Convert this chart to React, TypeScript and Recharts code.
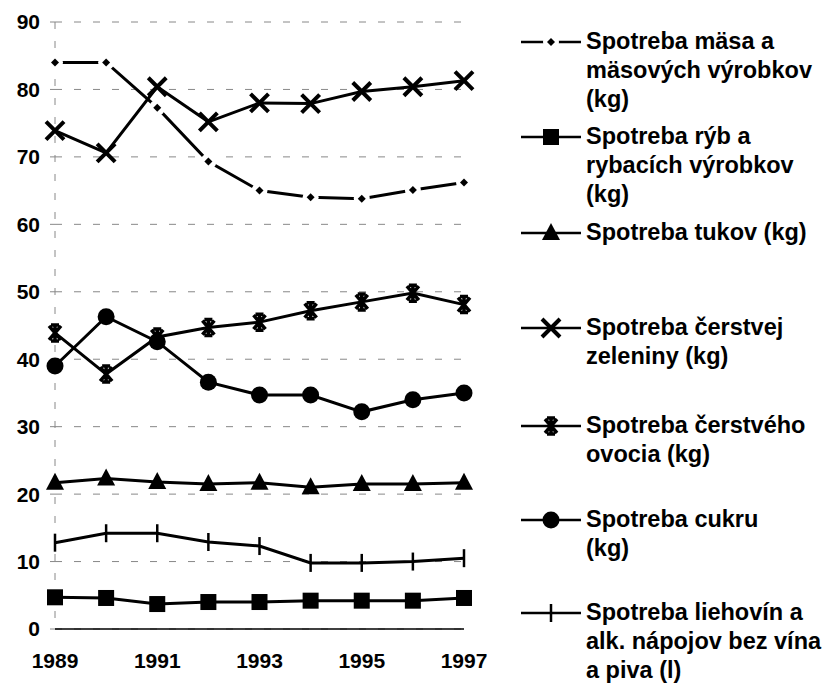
import { LineChart, Line, XAxis, YAxis, CartesianGrid } from 'recharts';

const years = ['1989', '1990', '1991', '1992', '1993', '1994', '1995', '1996', '1997'];
const maso = [84.0, 84.0, 77.3, 69.3, 65.0, 64.0, 63.8, 65.1, 66.2];
const ryby = [4.7, 4.6, 3.7, 4.0, 4.0, 4.2, 4.2, 4.2, 4.6];
const tuky = [21.7, 22.3, 21.8, 21.5, 21.7, 21.0, 21.5, 21.5, 21.7];
const zelenina = [73.9, 70.6, 80.4, 75.2, 78.0, 77.9, 79.7, 80.4, 81.3];
const ovocie = [43.9, 37.8, 43.3, 44.7, 45.5, 47.2, 48.5, 49.8, 48.1];
const cukor = [39.0, 46.3, 42.6, 36.6, 34.7, 34.7, 32.2, 34.0, 35.0];
const liehoviny = [12.8, 14.2, 14.2, 12.9, 12.3, 9.8, 9.8, 10.0, 10.5];

const yTicks = [0, 10, 20, 30, 40, 50, 60, 70, 80, 90];

const legendLines: Record<string, string[]> = {
  maso: ['Spotreba mäsa a', 'mäsových výrobkov', '(kg)'],
  ryby: ['Spotreba rýb a', 'rybacích výrobkov', '(kg)'],
  tuky: ['Spotreba tukov (kg)'],
  zelenina: ['Spotreba čerstvej', 'zeleniny (kg)'],
  ovocie: ['Spotreba čerstvého', 'ovocia (kg)'],
  cukor: ['Spotreba cukru', '(kg)'],
  liehoviny: ['Spotreba liehovín a', 'alk. nápojov bez vína', 'a piva (l)'],
};

const data = years.map((year, i) => ({
  year,
  maso: maso[i],
  ryby: ryby[i],
  tuky: tuky[i],
  zelenina: zelenina[i],
  ovocie: ovocie[i],
  cukor: cukor[i],
  liehoviny: liehoviny[i],
}));

const FONT = '"Liberation Sans", Arial, sans-serif';

function Marker({ kind, cx, cy }: { kind: string; cx: number; cy: number }) {
  switch (kind) {
    case 'maso':
      return (
        <g>
          <circle cx={cx} cy={cy} r={8} fill="#fff" />
          <path d={`M${cx} ${cy - 4}L${cx + 4} ${cy}L${cx} ${cy + 4}L${cx - 4} ${cy}Z`} fill="#000" />
        </g>
      );
    case 'ryby':
      return <rect x={cx - 8} y={cy - 8} width={16} height={16} fill="#000" />;
    case 'tuky':
      return <path d={`M${cx} ${cy - 10}L${cx + 9} ${cy + 7}L${cx - 9} ${cy + 7}Z`} fill="#000" />;
    case 'zelenina':
      return (
        <path
          d={`M${cx - 9} ${cy - 9}L${cx + 9} ${cy + 9}M${cx + 9} ${cy - 9}L${cx - 9} ${cy + 9}`}
          stroke="#000"
          strokeWidth={4}
        />
      );
    case 'ovocie':
      return (
        <path
          d={`M${cx - 6} ${cy - 7}L${cx + 6} ${cy + 7}M${cx + 6} ${cy - 7}L${cx - 6} ${cy + 7}M${cx} ${cy - 8}L${cx} ${cy + 8}M${cx - 4} ${cy - 8}L${cx + 4} ${cy - 8}M${cx - 4} ${cy + 8}L${cx + 4} ${cy + 8}`}
          stroke="#000"
          strokeWidth={3.5}
        />
      );
    case 'cukor':
      return <circle cx={cx} cy={cy} r={8.5} fill="#000" />;
    case 'liehoviny':
      return <path d={`M${cx} ${cy - 9}L${cx} ${cy + 9}`} stroke="#000" strokeWidth={2.5} />;
    default:
      return null;
  }
}

const seriesKeys = ['maso', 'ryby', 'tuky', 'zelenina', 'ovocie', 'cukor', 'liehoviny'];
const legendTop = [27, 122, 218, 313, 411, 505, 598];

const renderDot = (kind: string) => (props: any) => (
  <Marker key={`${kind}-${props.index}`} kind={kind} cx={props.cx} cy={props.cy} />
);

export default function App() {
  return (
    <div style={{ position: 'absolute', left: 0, top: 0, width: 825, height: 684, background: '#fff' }}>
      <LineChart width={825} height={684} data={data} margin={{ top: 22, right: 361, bottom: 0, left: 0 }}>
        <CartesianGrid vertical={false} stroke="#888" strokeDasharray="7 12" />
        <XAxis
          dataKey="year"
          interval={1}
          axisLine={{ stroke: '#000', strokeWidth: 1.5 }}
          tickLine={false}
          tickSize={0}
          tickMargin={24}
          height={55}
          tick={{ fill: '#000', fontSize: 21, fontWeight: 'bold', fontFamily: FONT }}
        />
        <YAxis
          domain={[0, 90]}
          ticks={yTicks}
          width={55}
          axisLine={{ stroke: '#888', strokeDasharray: '7 12' }}
          tickLine={{ stroke: '#888' }}
          tickSize={5}
          tickMargin={10}
          tick={{ fill: '#000', fontSize: 21, fontWeight: 'bold', fontFamily: FONT }}
        />
        {seriesKeys.map((k) => (
          <Line
            key={k}
            dataKey={k}
            stroke="#000"
            strokeWidth={3}
            dot={renderDot(k)}
            activeDot={false}
            isAnimationActive={false}
          />
        ))}
      </LineChart>
      {seriesKeys.map((k, i) => (
        <div key={k} style={{ position: 'absolute', left: 0, top: legendTop[i] }}>
          <svg width={64} height={30} style={{ position: 'absolute', left: 519, top: 0 }}>
            <line x1={2} y1={15} x2={62} y2={15} stroke="#000" strokeWidth={2.5} />
            <Marker kind={k} cx={32} cy={15} />
          </svg>
          <div
            style={{
              position: 'absolute',
              left: 586,
              top: 0,
              width: 240,
              fontFamily: FONT,
              fontWeight: 'bold',
              fontSize: 23.5,
              lineHeight: '29px',
              color: '#000',
              whiteSpace: 'nowrap',
            }}
          >
            {legendLines[k].map((line) => (
              <div key={line}>{line}</div>
            ))}
          </div>
        </div>
      ))}
    </div>
  );
}
